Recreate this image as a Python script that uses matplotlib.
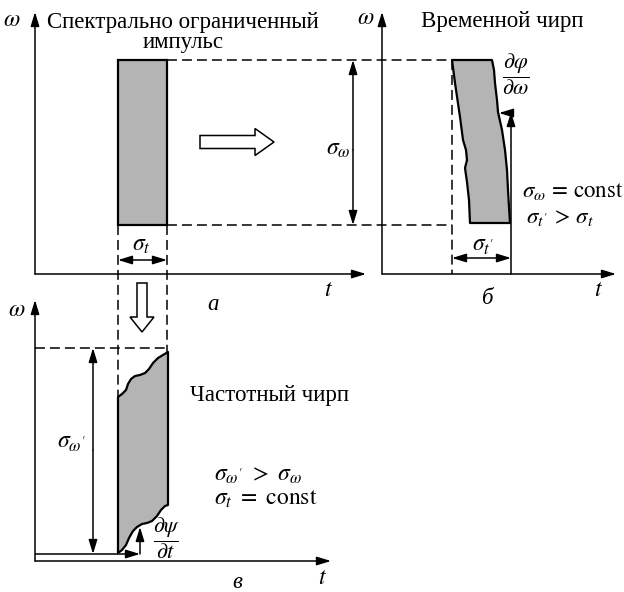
import matplotlib
matplotlib.use("Agg")
import matplotlib.pyplot as plt
from matplotlib.patches import Polygon, Rectangle

plt.rcParams['font.family'] = ['Liberation Serif', 'DejaVu Serif']
plt.rcParams['mathtext.fontset'] = 'stix'

# geometry of the sketch, in picture pixels (y grows downwards)
pulse_t = [118, 167]          # time edges of the original pulse
pulse_w = [60, 225]           # frequency edges (top, bottom)

# panel б: time-chirped pulse, wavy left and right edges
chirp_t_left = [(452, 60), (455, 83), (460, 117), (463, 140), (466, 150), (467, 160),
                (465, 168), (467, 182), (469, 200), (470, 223)]
chirp_t_right = [(492, 60), (494, 70), (495, 83), (497, 100), (498, 112), (502, 130),
                 (505, 150), (507, 170), (508, 190), (509, 207), (510, 223)]

# panel в: frequency-chirped pulse, wavy top and bottom edges
chirp_w_top = [(118, 397), (122, 394), (126, 390), (128, 384), (131, 379), (135, 376),
               (140, 375), (145, 373), (149, 369), (153, 363), (158, 358), (163, 355), (168, 352)]
chirp_w_bottom = [(118, 553), (122, 550), (126, 545), (129, 538), (133, 531), (137, 527),
                  (142, 524), (147, 523), (152, 521), (157, 516), (161, 510), (165, 506), (168, 505)]

gray = '#b4b4b4'
dash = (0, (6.5, 3.3))
fs_math = 17
fs_text = 16.5

fig = plt.figure(figsize=(6.24, 5.92), dpi=100)
ax = fig.add_axes([0, 0, 1, 1])
ax.set_xlim(0, 624)
ax.set_ylim(592, 0)
ax.axis('off')


def arrow(p0, p1, style='-|>', lw=1.1):
    ax.annotate('', xy=p1, xytext=p0,
                arrowprops=dict(arrowstyle=f'{style},head_length=0.85,head_width=0.26',
                                color='black', lw=lw, shrinkA=0, shrinkB=0,
                                mutation_scale=10))


def line(xs, ys, **kw):
    ax.plot(xs, ys, color='black', lw=kw.pop('lw', 1.1), solid_capstyle='butt', **kw)


def hollow_arrow(x0, y0, length, shaft, head, head_len, direction):
    # direction 'right' or 'down'
    pts = [(0, -shaft / 2), (length - head_len, -shaft / 2), (length - head_len, -head / 2),
           (length, 0), (length - head_len, head / 2), (length - head_len, shaft / 2), (0, shaft / 2)]
    if direction == 'right':
        pts = [(x0 + a, y0 + b) for a, b in pts]
    else:
        pts = [(x0 + b, y0 + a) for a, b in pts]
    ax.add_patch(Polygon(pts, closed=True, facecolor='white', edgecolor='black', lw=1.1))


# ---------------- panel а ----------------
arrow((35, 274), (35, 12))
arrow((35, 274), (366, 274))
ax.add_patch(Rectangle((pulse_t[0], pulse_w[0]), pulse_t[1] - pulse_t[0], pulse_w[1] - pulse_w[0],
                       facecolor=gray, edgecolor='black', lw=1.6))
line([pulse_t[1], 452], [pulse_w[0]] * 2, ls=dash)
line([pulse_t[1], 452], [pulse_w[1]] * 2, ls=dash)
line([pulse_t[0]] * 2, [pulse_w[1], 397], ls=dash)
line([pulse_t[1]] * 2, [pulse_w[1], 352], ls=dash)
arrow((pulse_t[0], 260), (pulse_t[1], 260), style='<|-|>')
ax.text(141, 246, r'$\sigma_t$', fontsize=fs_math, ha='center', va='center')
hollow_arrow(200, 142, 74, 13, 27, 19, 'right')
hollow_arrow(142, 283, 49, 10, 24, 15, 'down')
ax.text(12, 21, r'$\omega$', fontsize=fs_math, ha='center', va='center')
ax.text(183, 28, 'Спектрально ограниченный', fontsize=fs_text, ha='center', va='baseline')
ax.text(183, 48, 'импульс', fontsize=fs_text, ha='center', va='baseline')
ax.text(328, 291, r'$t$', fontsize=fs_math, ha='center', va='center')
ax.text(213, 305, 'а', fontsize=fs_text, style='italic', ha='center', va='center')

# ---------------- panel б ----------------
arrow((382, 274), (382, 12))
arrow((382, 274), (616, 274))
shape_b = chirp_t_left + chirp_t_right[::-1]
ax.add_patch(Polygon(shape_b, closed=True, facecolor=gray, edgecolor='black', lw=1.6,
                     joinstyle='round'))
line([452, 452], [pulse_w[0], 274], ls=dash)
arrow((353, 150), (353, pulse_w[0]))
arrow((353, 150), (353, pulse_w[1]))
ax.text(338, 150, r'$\sigma_\omega$', fontsize=fs_math, ha='center', va='center')
arrow((511, 274), (511, 112))
arrow((511, 113), (499, 113))
ax.text(516, 74, r'$\dfrac{\partial\varphi}{\partial\omega}$', fontsize=16, ha='center', va='center')
arrow((452, 258), (511, 258), style='<|-|>')
ax.text(483, 248, r"$\sigma_{t'}$", fontsize=fs_math, ha='center', va='center')
ax.text(522, 191, r'$\sigma_\omega\,=\,\mathrm{const}$', fontsize=16.5, ha='left', va='center')
ax.text(526, 217, r"$\sigma_{t'}\,>\,\sigma_t$", fontsize=16.5, ha='left', va='center')
ax.text(366, 18, r'$\omega$', fontsize=fs_math, ha='center', va='center')
ax.text(502, 27, 'Временной чирп', fontsize=fs_text, ha='center', va='baseline')
ax.text(598, 291, r'$t$', fontsize=fs_math, ha='center', va='center')
ax.text(488, 299, 'б', fontsize=fs_text, style='italic', ha='center', va='center')

# ---------------- panel в ----------------
arrow((35, 561), (35, 300))
arrow((35, 561), (331, 561))
shape_c = [(118, 397)] + chirp_w_bottom + chirp_w_top[::-1]
ax.add_patch(Polygon(shape_c, closed=True, facecolor=gray, edgecolor='black', lw=1.6,
                     joinstyle='round'))
line([35, pulse_t[1]], [348, 348], ls=dash)
arrow((93, 450), (93, 348))
arrow((93, 450), (93, 554))
ax.text(71, 444, r"$\sigma_{\omega'}$", fontsize=fs_math, ha='center', va='center')
line([35, pulse_t[0]], [554, 554])
arrow((pulse_t[0], 554), (140, 554))
arrow((140, 554), (140, 527))
ax.text(167, 538, r'$\dfrac{\partial\psi}{\partial t}$', fontsize=16, ha='center', va='center')
ax.text(17, 311, r'$\omega$', fontsize=fs_math, ha='center', va='center')
ax.text(190, 395, 'Частотный чирп', fontsize=fs_text, ha='left', va='center')
ax.text(214, 475, r"$\sigma_{\omega'}\ >\ \sigma_\omega$", fontsize=fs_math, ha='left', va='center')
ax.text(214, 499, r'$\sigma_t\ =\ \mathrm{const}$', fontsize=fs_math, ha='left', va='center')
ax.text(322, 578, r'$t$', fontsize=fs_math, ha='center', va='center')
ax.text(237, 582, 'в', fontsize=fs_text, style='italic', ha='center', va='center')

fig.savefig('out.png', dpi=100)
